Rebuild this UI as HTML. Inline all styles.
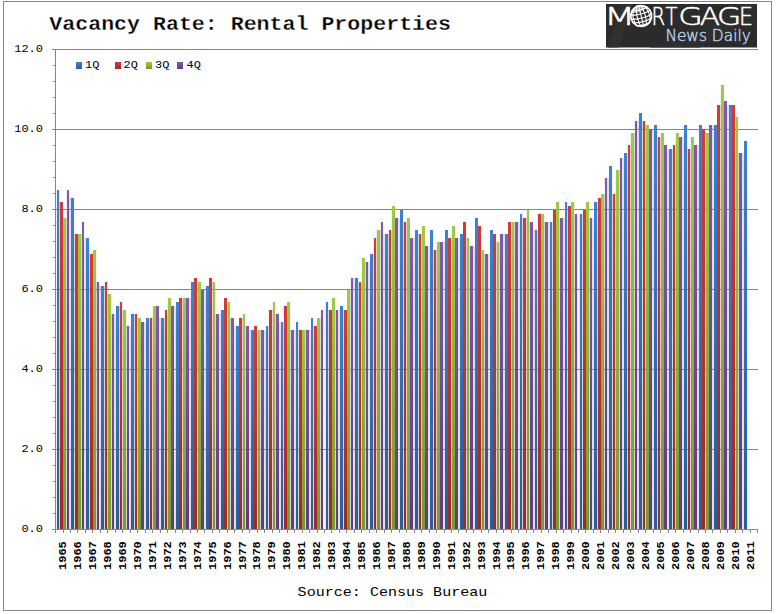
<!DOCTYPE html>
<html lang="en"><head><meta charset="utf-8"><title>Vacancy Rate: Rental Properties</title>
<style>
html,body{margin:0;padding:0;background:#fff;}
body{width:776px;height:614px;overflow:hidden;position:relative;font-family:"Liberation Mono",monospace;}
svg{position:absolute;left:0;top:0;display:block}
.mono{font-family:"Liberation Mono",monospace}
.ax{font-family:"Liberation Mono",monospace;font-size:12px;fill:#000}
.yr{font-family:"Liberation Mono",monospace;font-size:12px;font-weight:bold;fill:#000}
.ttl{font-family:"Liberation Mono",monospace;font-size:21.67px;font-weight:bold;fill:#000}
.src{font-family:"Liberation Mono",monospace;font-size:15px;fill:#000}
.lg{font-family:"DejaVu Sans","Liberation Sans",sans-serif;font-weight:200;fill:#fff}
.nd{font-family:"DejaVu Sans","Liberation Sans",sans-serif;font-weight:200;fill:#b4cde8}
</style></head><body>
<svg width="776" height="614" viewBox="0 0 776 614">
<defs>
<linearGradient id="gb" x1="0" y1="0" x2="0" y2="1"><stop offset="0" stop-color="#3A82D5"/><stop offset="1" stop-color="#265E9A"/></linearGradient>
<linearGradient id="gr" x1="0" y1="0" x2="0" y2="1"><stop offset="0" stop-color="#D33A38"/><stop offset="1" stop-color="#A02828"/></linearGradient>
<linearGradient id="gg" x1="0" y1="0" x2="0" y2="1"><stop offset="0" stop-color="#9FCB40"/><stop offset="1" stop-color="#769A30"/></linearGradient>
<linearGradient id="gp" x1="0" y1="0" x2="0" y2="1"><stop offset="0" stop-color="#8358B0"/><stop offset="1" stop-color="#5E3B82"/></linearGradient>
<linearGradient id="lgbg" x1="0" y1="1" x2="1" y2="0"><stop offset="0" stop-color="#2a2a2a"/><stop offset="0.18" stop-color="#2a2a2a"/><stop offset="0.22" stop-color="#343434"/><stop offset="0.42" stop-color="#303030"/><stop offset="0.46" stop-color="#2a2a2a"/><stop offset="1" stop-color="#2b2b2b"/></linearGradient>
</defs>
<rect x="0" y="0" width="776" height="614" fill="#fff"/>
<rect x="3.5" y="1.5" width="768" height="609" fill="none" stroke="#868686" stroke-width="1" shape-rendering="crispEdges"/>
<g shape-rendering="crispEdges">
<rect x="56" y="190" width="1" height="339" fill="#F3F2F0"/>
<rect x="59" y="202" width="1" height="327" fill="#D6D6D2"/>
<rect x="59" y="190" width="1" height="12" fill="#F3F2F0"/>
<rect x="66" y="218" width="1" height="311" fill="#D6D6D2"/>
<rect x="66" y="190" width="1" height="28" fill="#F3F2F0"/>
<rect x="69" y="198" width="2" height="331" fill="#E3E1DC"/>
<rect x="74" y="234" width="1" height="295" fill="#D6D6D2"/>
<rect x="74" y="198" width="1" height="36" fill="#F3F2F0"/>
<rect x="81" y="234" width="1" height="295" fill="#D6D6D2"/>
<rect x="81" y="222" width="1" height="12" fill="#F3F2F0"/>
<rect x="84" y="238" width="2" height="291" fill="#E3E1DC"/>
<rect x="89" y="254" width="1" height="275" fill="#D6D6D2"/>
<rect x="89" y="238" width="1" height="16" fill="#F3F2F0"/>
<rect x="96" y="282" width="1" height="247" fill="#D6D6D2"/>
<rect x="96" y="250" width="1" height="32" fill="#F3F2F0"/>
<rect x="99" y="286" width="2" height="243" fill="#E3E1DC"/>
<rect x="104" y="286" width="1" height="243" fill="#D6D6D2"/>
<rect x="104" y="282" width="1" height="4" fill="#F3F2F0"/>
<rect x="107" y="294" width="1" height="235" fill="#D6D6D2"/>
<rect x="107" y="282" width="1" height="12" fill="#F3F2F0"/>
<rect x="111" y="314" width="1" height="215" fill="#D6D6D2"/>
<rect x="111" y="294" width="1" height="20" fill="#F3F2F0"/>
<rect x="114" y="314" width="2" height="215" fill="#E3E1DC"/>
<rect x="119" y="306" width="1" height="223" fill="#D6D6D2"/>
<rect x="119" y="302" width="1" height="4" fill="#F3F2F0"/>
<rect x="122" y="310" width="1" height="219" fill="#D6D6D2"/>
<rect x="122" y="302" width="1" height="8" fill="#F3F2F0"/>
<rect x="126" y="326" width="1" height="203" fill="#D6D6D2"/>
<rect x="126" y="310" width="1" height="16" fill="#F3F2F0"/>
<rect x="129" y="326" width="2" height="203" fill="#E3E1DC"/>
<rect x="134" y="314" width="1" height="215" fill="#D6D6D2"/>
<rect x="137" y="318" width="1" height="211" fill="#D6D6D2"/>
<rect x="137" y="314" width="1" height="4" fill="#F3F2F0"/>
<rect x="144" y="322" width="2" height="207" fill="#E3E1DC"/>
<rect x="149" y="318" width="1" height="211" fill="#D6D6D2"/>
<rect x="152" y="318" width="1" height="211" fill="#D6D6D2"/>
<rect x="152" y="306" width="1" height="12" fill="#F3F2F0"/>
<rect x="159" y="318" width="2" height="211" fill="#E3E1DC"/>
<rect x="164" y="318" width="1" height="211" fill="#D6D6D2"/>
<rect x="164" y="310" width="1" height="8" fill="#F3F2F0"/>
<rect x="167" y="310" width="1" height="219" fill="#D6D6D2"/>
<rect x="167" y="298" width="1" height="12" fill="#F3F2F0"/>
<rect x="174" y="306" width="2" height="223" fill="#E3E1DC"/>
<rect x="182" y="298" width="1" height="231" fill="#D6D6D2"/>
<rect x="189" y="298" width="2" height="231" fill="#E3E1DC"/>
<rect x="197" y="282" width="1" height="247" fill="#D6D6D2"/>
<rect x="197" y="278" width="1" height="4" fill="#F3F2F0"/>
<rect x="204" y="290" width="2" height="239" fill="#E3E1DC"/>
<rect x="212" y="282" width="1" height="247" fill="#D6D6D2"/>
<rect x="212" y="278" width="1" height="4" fill="#F3F2F0"/>
<rect x="215" y="314" width="1" height="215" fill="#D6D6D2"/>
<rect x="215" y="282" width="1" height="32" fill="#F3F2F0"/>
<rect x="219" y="314" width="2" height="215" fill="#E3E1DC"/>
<rect x="227" y="302" width="1" height="227" fill="#D6D6D2"/>
<rect x="227" y="298" width="1" height="4" fill="#F3F2F0"/>
<rect x="230" y="318" width="1" height="211" fill="#D6D6D2"/>
<rect x="230" y="302" width="1" height="16" fill="#F3F2F0"/>
<rect x="234" y="326" width="2" height="203" fill="#E3E1DC"/>
<rect x="242" y="318" width="1" height="211" fill="#D6D6D2"/>
<rect x="242" y="314" width="1" height="4" fill="#F3F2F0"/>
<rect x="245" y="326" width="1" height="203" fill="#D6D6D2"/>
<rect x="245" y="314" width="1" height="12" fill="#F3F2F0"/>
<rect x="249" y="330" width="2" height="199" fill="#E3E1DC"/>
<rect x="257" y="330" width="1" height="199" fill="#D6D6D2"/>
<rect x="257" y="326" width="1" height="4" fill="#F3F2F0"/>
<rect x="260" y="330" width="1" height="199" fill="#D6D6D2"/>
<rect x="264" y="330" width="2" height="199" fill="#E3E1DC"/>
<rect x="268" y="326" width="1" height="203" fill="#D6D6D2"/>
<rect x="268" y="310" width="1" height="16" fill="#F3F2F0"/>
<rect x="272" y="310" width="1" height="219" fill="#D6D6D2"/>
<rect x="272" y="302" width="1" height="8" fill="#F3F2F0"/>
<rect x="275" y="314" width="1" height="215" fill="#D6D6D2"/>
<rect x="275" y="302" width="1" height="12" fill="#F3F2F0"/>
<rect x="279" y="322" width="2" height="207" fill="#E3E1DC"/>
<rect x="283" y="322" width="1" height="207" fill="#D6D6D2"/>
<rect x="283" y="306" width="1" height="16" fill="#F3F2F0"/>
<rect x="290" y="330" width="1" height="199" fill="#D6D6D2"/>
<rect x="290" y="302" width="1" height="28" fill="#F3F2F0"/>
<rect x="294" y="330" width="2" height="199" fill="#E3E1DC"/>
<rect x="298" y="330" width="1" height="199" fill="#D6D6D2"/>
<rect x="298" y="322" width="1" height="8" fill="#F3F2F0"/>
<rect x="305" y="330" width="1" height="199" fill="#D6D6D2"/>
<rect x="309" y="330" width="2" height="199" fill="#E3E1DC"/>
<rect x="313" y="326" width="1" height="203" fill="#D6D6D2"/>
<rect x="313" y="318" width="1" height="8" fill="#F3F2F0"/>
<rect x="320" y="318" width="1" height="211" fill="#D6D6D2"/>
<rect x="320" y="310" width="1" height="8" fill="#F3F2F0"/>
<rect x="323" y="310" width="3" height="219" fill="#F8F7F5"/>
<rect x="323" y="310" width="1" height="219" fill="#E8E6E2"/>
<rect x="325" y="310" width="1" height="219" fill="#E8E6E2"/>
<rect x="325" y="302" width="1" height="8" fill="#F3F2F0"/>
<rect x="328" y="310" width="1" height="219" fill="#D6D6D2"/>
<rect x="328" y="302" width="1" height="8" fill="#F3F2F0"/>
<rect x="335" y="310" width="1" height="219" fill="#D6D6D2"/>
<rect x="335" y="298" width="1" height="12" fill="#F3F2F0"/>
<rect x="338" y="310" width="2" height="219" fill="#E3E1DC"/>
<rect x="343" y="310" width="1" height="219" fill="#D6D6D2"/>
<rect x="343" y="306" width="1" height="4" fill="#F3F2F0"/>
<rect x="350" y="290" width="1" height="239" fill="#D6D6D2"/>
<rect x="350" y="278" width="1" height="12" fill="#F3F2F0"/>
<rect x="353" y="278" width="2" height="251" fill="#E3E1DC"/>
<rect x="358" y="282" width="1" height="247" fill="#D6D6D2"/>
<rect x="358" y="278" width="1" height="4" fill="#F3F2F0"/>
<rect x="361" y="282" width="1" height="247" fill="#D6D6D2"/>
<rect x="361" y="258" width="1" height="24" fill="#F3F2F0"/>
<rect x="365" y="262" width="1" height="267" fill="#D6D6D2"/>
<rect x="365" y="258" width="1" height="4" fill="#F3F2F0"/>
<rect x="368" y="262" width="2" height="267" fill="#E3E1DC"/>
<rect x="373" y="254" width="1" height="275" fill="#D6D6D2"/>
<rect x="373" y="238" width="1" height="16" fill="#F3F2F0"/>
<rect x="376" y="238" width="1" height="291" fill="#D6D6D2"/>
<rect x="376" y="230" width="1" height="8" fill="#F3F2F0"/>
<rect x="380" y="230" width="1" height="299" fill="#D6D6D2"/>
<rect x="380" y="222" width="1" height="8" fill="#F3F2F0"/>
<rect x="383" y="234" width="2" height="295" fill="#E3E1DC"/>
<rect x="388" y="234" width="1" height="295" fill="#D6D6D2"/>
<rect x="388" y="230" width="1" height="4" fill="#F3F2F0"/>
<rect x="391" y="230" width="1" height="299" fill="#D6D6D2"/>
<rect x="391" y="206" width="1" height="24" fill="#F3F2F0"/>
<rect x="398" y="218" width="2" height="311" fill="#E3E1DC"/>
<rect x="403" y="222" width="1" height="307" fill="#D6D6D2"/>
<rect x="403" y="210" width="1" height="12" fill="#F3F2F0"/>
<rect x="406" y="222" width="1" height="307" fill="#D6D6D2"/>
<rect x="406" y="218" width="1" height="4" fill="#F3F2F0"/>
<rect x="413" y="238" width="2" height="291" fill="#E3E1DC"/>
<rect x="418" y="234" width="1" height="295" fill="#D6D6D2"/>
<rect x="418" y="230" width="1" height="4" fill="#F3F2F0"/>
<rect x="421" y="234" width="1" height="295" fill="#D6D6D2"/>
<rect x="421" y="226" width="1" height="8" fill="#F3F2F0"/>
<rect x="428" y="246" width="2" height="283" fill="#E3E1DC"/>
<rect x="433" y="250" width="1" height="279" fill="#D6D6D2"/>
<rect x="433" y="230" width="1" height="20" fill="#F3F2F0"/>
<rect x="436" y="250" width="1" height="279" fill="#D6D6D2"/>
<rect x="436" y="242" width="1" height="8" fill="#F3F2F0"/>
<rect x="443" y="242" width="2" height="287" fill="#E3E1DC"/>
<rect x="451" y="238" width="1" height="291" fill="#D6D6D2"/>
<rect x="451" y="226" width="1" height="12" fill="#F3F2F0"/>
<rect x="458" y="238" width="2" height="291" fill="#E3E1DC"/>
<rect x="466" y="238" width="1" height="291" fill="#D6D6D2"/>
<rect x="466" y="222" width="1" height="16" fill="#F3F2F0"/>
<rect x="469" y="246" width="1" height="283" fill="#D6D6D2"/>
<rect x="469" y="238" width="1" height="8" fill="#F3F2F0"/>
<rect x="473" y="246" width="2" height="283" fill="#E3E1DC"/>
<rect x="481" y="250" width="1" height="279" fill="#D6D6D2"/>
<rect x="481" y="226" width="1" height="24" fill="#F3F2F0"/>
<rect x="484" y="254" width="1" height="275" fill="#D6D6D2"/>
<rect x="484" y="250" width="1" height="4" fill="#F3F2F0"/>
<rect x="488" y="254" width="2" height="275" fill="#E3E1DC"/>
<rect x="496" y="242" width="1" height="287" fill="#D6D6D2"/>
<rect x="496" y="234" width="1" height="8" fill="#F3F2F0"/>
<rect x="499" y="242" width="1" height="287" fill="#D6D6D2"/>
<rect x="499" y="234" width="1" height="8" fill="#F3F2F0"/>
<rect x="503" y="234" width="2" height="295" fill="#E3E1DC"/>
<rect x="511" y="222" width="1" height="307" fill="#D6D6D2"/>
<rect x="514" y="222" width="1" height="307" fill="#D6D6D2"/>
<rect x="518" y="222" width="2" height="307" fill="#E3E1DC"/>
<rect x="522" y="218" width="1" height="311" fill="#D6D6D2"/>
<rect x="522" y="214" width="1" height="4" fill="#F3F2F0"/>
<rect x="526" y="218" width="1" height="311" fill="#D6D6D2"/>
<rect x="526" y="210" width="1" height="8" fill="#F3F2F0"/>
<rect x="529" y="222" width="1" height="307" fill="#D6D6D2"/>
<rect x="529" y="210" width="1" height="12" fill="#F3F2F0"/>
<rect x="533" y="230" width="2" height="299" fill="#E3E1DC"/>
<rect x="537" y="230" width="1" height="299" fill="#D6D6D2"/>
<rect x="537" y="214" width="1" height="16" fill="#F3F2F0"/>
<rect x="544" y="222" width="1" height="307" fill="#D6D6D2"/>
<rect x="544" y="214" width="1" height="8" fill="#F3F2F0"/>
<rect x="548" y="222" width="2" height="307" fill="#E3E1DC"/>
<rect x="552" y="222" width="1" height="307" fill="#D6D6D2"/>
<rect x="552" y="210" width="1" height="12" fill="#F3F2F0"/>
<rect x="559" y="218" width="1" height="311" fill="#D6D6D2"/>
<rect x="559" y="202" width="1" height="16" fill="#F3F2F0"/>
<rect x="563" y="218" width="2" height="311" fill="#E3E1DC"/>
<rect x="567" y="206" width="1" height="323" fill="#D6D6D2"/>
<rect x="567" y="202" width="1" height="4" fill="#F3F2F0"/>
<rect x="574" y="214" width="1" height="315" fill="#D6D6D2"/>
<rect x="574" y="202" width="1" height="12" fill="#F3F2F0"/>
<rect x="577" y="214" width="3" height="315" fill="#F8F7F5"/>
<rect x="577" y="214" width="1" height="315" fill="#E8E6E2"/>
<rect x="579" y="214" width="1" height="315" fill="#E8E6E2"/>
<rect x="582" y="214" width="1" height="315" fill="#D6D6D2"/>
<rect x="582" y="210" width="1" height="4" fill="#F3F2F0"/>
<rect x="589" y="218" width="1" height="311" fill="#D6D6D2"/>
<rect x="589" y="202" width="1" height="16" fill="#F3F2F0"/>
<rect x="592" y="218" width="2" height="311" fill="#E3E1DC"/>
<rect x="597" y="202" width="1" height="327" fill="#D6D6D2"/>
<rect x="597" y="198" width="1" height="4" fill="#F3F2F0"/>
<rect x="604" y="194" width="1" height="335" fill="#D6D6D2"/>
<rect x="604" y="178" width="1" height="16" fill="#F3F2F0"/>
<rect x="607" y="178" width="2" height="351" fill="#E3E1DC"/>
<rect x="612" y="194" width="1" height="335" fill="#D6D6D2"/>
<rect x="612" y="166" width="1" height="28" fill="#F3F2F0"/>
<rect x="615" y="194" width="1" height="335" fill="#D6D6D2"/>
<rect x="615" y="170" width="1" height="24" fill="#F3F2F0"/>
<rect x="619" y="170" width="1" height="359" fill="#D6D6D2"/>
<rect x="619" y="158" width="1" height="12" fill="#F3F2F0"/>
<rect x="622" y="158" width="2" height="371" fill="#E3E1DC"/>
<rect x="627" y="153" width="1" height="376" fill="#D6D6D2"/>
<rect x="627" y="145" width="1" height="8" fill="#F3F2F0"/>
<rect x="630" y="145" width="1" height="384" fill="#D6D6D2"/>
<rect x="630" y="133" width="1" height="12" fill="#F3F2F0"/>
<rect x="634" y="133" width="1" height="396" fill="#D6D6D2"/>
<rect x="634" y="121" width="1" height="12" fill="#F3F2F0"/>
<rect x="637" y="121" width="2" height="408" fill="#E3E1DC"/>
<rect x="642" y="121" width="1" height="408" fill="#D6D6D2"/>
<rect x="642" y="113" width="1" height="8" fill="#F3F2F0"/>
<rect x="645" y="125" width="1" height="404" fill="#D6D6D2"/>
<rect x="645" y="121" width="1" height="4" fill="#F3F2F0"/>
<rect x="652" y="129" width="2" height="400" fill="#E3E1DC"/>
<rect x="657" y="137" width="1" height="392" fill="#D6D6D2"/>
<rect x="657" y="125" width="1" height="12" fill="#F3F2F0"/>
<rect x="660" y="137" width="1" height="392" fill="#D6D6D2"/>
<rect x="660" y="133" width="1" height="4" fill="#F3F2F0"/>
<rect x="667" y="149" width="2" height="380" fill="#E3E1DC"/>
<rect x="672" y="149" width="1" height="380" fill="#D6D6D2"/>
<rect x="672" y="145" width="1" height="4" fill="#F3F2F0"/>
<rect x="675" y="145" width="1" height="384" fill="#D6D6D2"/>
<rect x="675" y="133" width="1" height="12" fill="#F3F2F0"/>
<rect x="682" y="137" width="2" height="392" fill="#E3E1DC"/>
<rect x="687" y="149" width="1" height="380" fill="#D6D6D2"/>
<rect x="687" y="125" width="1" height="24" fill="#F3F2F0"/>
<rect x="690" y="149" width="1" height="380" fill="#D6D6D2"/>
<rect x="690" y="137" width="1" height="12" fill="#F3F2F0"/>
<rect x="697" y="145" width="2" height="384" fill="#E3E1DC"/>
<rect x="705" y="133" width="1" height="396" fill="#D6D6D2"/>
<rect x="705" y="129" width="1" height="4" fill="#F3F2F0"/>
<rect x="712" y="125" width="2" height="404" fill="#E3E1DC"/>
<rect x="720" y="105" width="1" height="424" fill="#D6D6D2"/>
<rect x="720" y="85" width="1" height="20" fill="#F3F2F0"/>
<rect x="727" y="105" width="2" height="424" fill="#E3E1DC"/>
<rect x="735" y="117" width="1" height="412" fill="#D6D6D2"/>
<rect x="735" y="105" width="1" height="12" fill="#F3F2F0"/>
<rect x="738" y="153" width="1" height="376" fill="#D6D6D2"/>
<rect x="738" y="117" width="1" height="36" fill="#F3F2F0"/>
<rect x="742" y="153" width="2" height="376" fill="#E3E1DC"/>
<rect x="747" y="141" width="1" height="388" fill="#F3F2F0"/>
</g>
<g shape-rendering="crispEdges" fill="#868686">
<rect x="52" y="49" width="706" height="1"/>
<rect x="52" y="129" width="706" height="1"/>
<rect x="52" y="209" width="706" height="1"/>
<rect x="52" y="289" width="706" height="1"/>
<rect x="52" y="369" width="706" height="1"/>
<rect x="52" y="449" width="706" height="1"/>
<rect x="52" y="529" width="706" height="1"/>
<rect x="55" y="49" width="1" height="481"/>
<rect x="53" y="65" width="2" height="1"/>
<rect x="53" y="81" width="2" height="1"/>
<rect x="53" y="97" width="2" height="1"/>
<rect x="53" y="113" width="2" height="1"/>
<rect x="53" y="145" width="2" height="1"/>
<rect x="53" y="161" width="2" height="1"/>
<rect x="53" y="177" width="2" height="1"/>
<rect x="53" y="193" width="2" height="1"/>
<rect x="53" y="225" width="2" height="1"/>
<rect x="53" y="241" width="2" height="1"/>
<rect x="53" y="257" width="2" height="1"/>
<rect x="53" y="273" width="2" height="1"/>
<rect x="53" y="305" width="2" height="1"/>
<rect x="53" y="321" width="2" height="1"/>
<rect x="53" y="337" width="2" height="1"/>
<rect x="53" y="353" width="2" height="1"/>
<rect x="53" y="385" width="2" height="1"/>
<rect x="53" y="401" width="2" height="1"/>
<rect x="53" y="417" width="2" height="1"/>
<rect x="53" y="433" width="2" height="1"/>
<rect x="53" y="465" width="2" height="1"/>
<rect x="53" y="481" width="2" height="1"/>
<rect x="53" y="497" width="2" height="1"/>
<rect x="53" y="513" width="2" height="1"/>
<rect x="55" y="530" width="1" height="3"/>
<rect x="63" y="530" width="1" height="3"/>
<rect x="70" y="530" width="1" height="3"/>
<rect x="77" y="530" width="1" height="3"/>
<rect x="85" y="530" width="1" height="3"/>
<rect x="92" y="530" width="1" height="3"/>
<rect x="100" y="530" width="1" height="3"/>
<rect x="107" y="530" width="1" height="3"/>
<rect x="115" y="530" width="1" height="3"/>
<rect x="122" y="530" width="1" height="3"/>
<rect x="130" y="530" width="1" height="3"/>
<rect x="137" y="530" width="1" height="3"/>
<rect x="145" y="530" width="1" height="3"/>
<rect x="152" y="530" width="1" height="3"/>
<rect x="160" y="530" width="1" height="3"/>
<rect x="167" y="530" width="1" height="3"/>
<rect x="175" y="530" width="1" height="3"/>
<rect x="182" y="530" width="1" height="3"/>
<rect x="190" y="530" width="1" height="3"/>
<rect x="197" y="530" width="1" height="3"/>
<rect x="204" y="530" width="1" height="3"/>
<rect x="212" y="530" width="1" height="3"/>
<rect x="219" y="530" width="1" height="3"/>
<rect x="227" y="530" width="1" height="3"/>
<rect x="234" y="530" width="1" height="3"/>
<rect x="242" y="530" width="1" height="3"/>
<rect x="249" y="530" width="1" height="3"/>
<rect x="257" y="530" width="1" height="3"/>
<rect x="264" y="530" width="1" height="3"/>
<rect x="272" y="530" width="1" height="3"/>
<rect x="279" y="530" width="1" height="3"/>
<rect x="287" y="530" width="1" height="3"/>
<rect x="294" y="530" width="1" height="3"/>
<rect x="302" y="530" width="1" height="3"/>
<rect x="309" y="530" width="1" height="3"/>
<rect x="317" y="530" width="1" height="3"/>
<rect x="324" y="530" width="1" height="3"/>
<rect x="331" y="530" width="1" height="3"/>
<rect x="339" y="530" width="1" height="3"/>
<rect x="346" y="530" width="1" height="3"/>
<rect x="354" y="530" width="1" height="3"/>
<rect x="361" y="530" width="1" height="3"/>
<rect x="369" y="530" width="1" height="3"/>
<rect x="376" y="530" width="1" height="3"/>
<rect x="384" y="530" width="1" height="3"/>
<rect x="391" y="530" width="1" height="3"/>
<rect x="399" y="530" width="1" height="3"/>
<rect x="406" y="530" width="1" height="3"/>
<rect x="414" y="530" width="1" height="3"/>
<rect x="421" y="530" width="1" height="3"/>
<rect x="429" y="530" width="1" height="3"/>
<rect x="436" y="530" width="1" height="3"/>
<rect x="444" y="530" width="1" height="3"/>
<rect x="451" y="530" width="1" height="3"/>
<rect x="458" y="530" width="1" height="3"/>
<rect x="466" y="530" width="1" height="3"/>
<rect x="473" y="530" width="1" height="3"/>
<rect x="481" y="530" width="1" height="3"/>
<rect x="488" y="530" width="1" height="3"/>
<rect x="496" y="530" width="1" height="3"/>
<rect x="503" y="530" width="1" height="3"/>
<rect x="511" y="530" width="1" height="3"/>
<rect x="518" y="530" width="1" height="3"/>
<rect x="526" y="530" width="1" height="3"/>
<rect x="533" y="530" width="1" height="3"/>
<rect x="541" y="530" width="1" height="3"/>
<rect x="548" y="530" width="1" height="3"/>
<rect x="556" y="530" width="1" height="3"/>
<rect x="563" y="530" width="1" height="3"/>
<rect x="571" y="530" width="1" height="3"/>
<rect x="578" y="530" width="1" height="3"/>
<rect x="585" y="530" width="1" height="3"/>
<rect x="593" y="530" width="1" height="3"/>
<rect x="600" y="530" width="1" height="3"/>
<rect x="608" y="530" width="1" height="3"/>
<rect x="615" y="530" width="1" height="3"/>
<rect x="623" y="530" width="1" height="3"/>
<rect x="630" y="530" width="1" height="3"/>
<rect x="638" y="530" width="1" height="3"/>
<rect x="645" y="530" width="1" height="3"/>
<rect x="653" y="530" width="1" height="3"/>
<rect x="660" y="530" width="1" height="3"/>
<rect x="668" y="530" width="1" height="3"/>
<rect x="675" y="530" width="1" height="3"/>
<rect x="683" y="530" width="1" height="3"/>
<rect x="690" y="530" width="1" height="3"/>
<rect x="698" y="530" width="1" height="3"/>
<rect x="705" y="530" width="1" height="3"/>
<rect x="712" y="530" width="1" height="3"/>
<rect x="720" y="530" width="1" height="3"/>
<rect x="727" y="530" width="1" height="3"/>
<rect x="735" y="530" width="1" height="3"/>
<rect x="742" y="530" width="1" height="3"/>
<rect x="750" y="530" width="1" height="3"/>
<rect x="757" y="530" width="1" height="3"/>
</g>
<g shape-rendering="crispEdges">
<rect x="57" y="190" width="2" height="339" fill="url(#gb)"/>
<rect x="60" y="202" width="3" height="327" fill="url(#gr)"/>
<rect x="63" y="218" width="3" height="311" fill="url(#gg)"/>
<rect x="67" y="190" width="2" height="339" fill="url(#gp)"/>
<rect x="71" y="198" width="3" height="331" fill="url(#gb)"/>
<rect x="75" y="234" width="3" height="295" fill="url(#gr)"/>
<rect x="78" y="234" width="3" height="295" fill="url(#gg)"/>
<rect x="82" y="222" width="2" height="307" fill="url(#gp)"/>
<rect x="86" y="238" width="3" height="291" fill="url(#gb)"/>
<rect x="90" y="254" width="3" height="275" fill="url(#gr)"/>
<rect x="93" y="250" width="3" height="279" fill="url(#gg)"/>
<rect x="97" y="282" width="2" height="247" fill="url(#gp)"/>
<rect x="101" y="286" width="3" height="243" fill="url(#gb)"/>
<rect x="105" y="282" width="2" height="247" fill="url(#gr)"/>
<rect x="108" y="294" width="3" height="235" fill="url(#gg)"/>
<rect x="112" y="314" width="2" height="215" fill="url(#gp)"/>
<rect x="116" y="306" width="3" height="223" fill="url(#gb)"/>
<rect x="120" y="302" width="2" height="227" fill="url(#gr)"/>
<rect x="123" y="310" width="3" height="219" fill="url(#gg)"/>
<rect x="127" y="326" width="2" height="203" fill="url(#gp)"/>
<rect x="131" y="314" width="3" height="215" fill="url(#gb)"/>
<rect x="135" y="314" width="2" height="215" fill="url(#gr)"/>
<rect x="138" y="318" width="3" height="211" fill="url(#gg)"/>
<rect x="141" y="322" width="3" height="207" fill="url(#gp)"/>
<rect x="146" y="318" width="3" height="211" fill="url(#gb)"/>
<rect x="150" y="318" width="2" height="211" fill="url(#gr)"/>
<rect x="153" y="306" width="3" height="223" fill="url(#gg)"/>
<rect x="156" y="306" width="3" height="223" fill="url(#gp)"/>
<rect x="161" y="318" width="3" height="211" fill="url(#gb)"/>
<rect x="165" y="310" width="2" height="219" fill="url(#gr)"/>
<rect x="168" y="298" width="3" height="231" fill="url(#gg)"/>
<rect x="171" y="306" width="3" height="223" fill="url(#gp)"/>
<rect x="176" y="302" width="3" height="227" fill="url(#gb)"/>
<rect x="179" y="298" width="3" height="231" fill="url(#gr)"/>
<rect x="183" y="298" width="3" height="231" fill="url(#gg)"/>
<rect x="186" y="298" width="3" height="231" fill="url(#gp)"/>
<rect x="191" y="282" width="3" height="247" fill="url(#gb)"/>
<rect x="194" y="278" width="3" height="251" fill="url(#gr)"/>
<rect x="198" y="282" width="3" height="247" fill="url(#gg)"/>
<rect x="201" y="290" width="3" height="239" fill="url(#gp)"/>
<rect x="206" y="286" width="3" height="243" fill="url(#gb)"/>
<rect x="209" y="278" width="3" height="251" fill="url(#gr)"/>
<rect x="213" y="282" width="2" height="247" fill="url(#gg)"/>
<rect x="216" y="314" width="3" height="215" fill="url(#gp)"/>
<rect x="221" y="310" width="3" height="219" fill="url(#gb)"/>
<rect x="224" y="298" width="3" height="231" fill="url(#gr)"/>
<rect x="228" y="302" width="2" height="227" fill="url(#gg)"/>
<rect x="231" y="318" width="3" height="211" fill="url(#gp)"/>
<rect x="236" y="326" width="3" height="203" fill="url(#gb)"/>
<rect x="239" y="318" width="3" height="211" fill="url(#gr)"/>
<rect x="243" y="314" width="2" height="215" fill="url(#gg)"/>
<rect x="246" y="326" width="3" height="203" fill="url(#gp)"/>
<rect x="251" y="330" width="3" height="199" fill="url(#gb)"/>
<rect x="254" y="326" width="3" height="203" fill="url(#gr)"/>
<rect x="258" y="330" width="2" height="199" fill="url(#gg)"/>
<rect x="261" y="330" width="3" height="199" fill="url(#gp)"/>
<rect x="266" y="326" width="2" height="203" fill="url(#gb)"/>
<rect x="269" y="310" width="3" height="219" fill="url(#gr)"/>
<rect x="273" y="302" width="2" height="227" fill="url(#gg)"/>
<rect x="276" y="314" width="3" height="215" fill="url(#gp)"/>
<rect x="281" y="322" width="2" height="207" fill="url(#gb)"/>
<rect x="284" y="306" width="3" height="223" fill="url(#gr)"/>
<rect x="287" y="302" width="3" height="227" fill="url(#gg)"/>
<rect x="291" y="330" width="3" height="199" fill="url(#gp)"/>
<rect x="296" y="322" width="2" height="207" fill="url(#gb)"/>
<rect x="299" y="330" width="3" height="199" fill="url(#gr)"/>
<rect x="302" y="330" width="3" height="199" fill="url(#gg)"/>
<rect x="306" y="330" width="3" height="199" fill="url(#gp)"/>
<rect x="311" y="318" width="2" height="211" fill="url(#gb)"/>
<rect x="314" y="326" width="3" height="203" fill="url(#gr)"/>
<rect x="317" y="318" width="3" height="211" fill="url(#gg)"/>
<rect x="321" y="310" width="2" height="219" fill="url(#gp)"/>
<rect x="326" y="302" width="2" height="227" fill="url(#gb)"/>
<rect x="329" y="310" width="3" height="219" fill="url(#gr)"/>
<rect x="332" y="298" width="3" height="231" fill="url(#gg)"/>
<rect x="336" y="310" width="2" height="219" fill="url(#gp)"/>
<rect x="340" y="306" width="3" height="223" fill="url(#gb)"/>
<rect x="344" y="310" width="3" height="219" fill="url(#gr)"/>
<rect x="347" y="290" width="3" height="239" fill="url(#gg)"/>
<rect x="351" y="278" width="2" height="251" fill="url(#gp)"/>
<rect x="355" y="278" width="3" height="251" fill="url(#gb)"/>
<rect x="359" y="282" width="2" height="247" fill="url(#gr)"/>
<rect x="362" y="258" width="3" height="271" fill="url(#gg)"/>
<rect x="366" y="262" width="2" height="267" fill="url(#gp)"/>
<rect x="370" y="254" width="3" height="275" fill="url(#gb)"/>
<rect x="374" y="238" width="2" height="291" fill="url(#gr)"/>
<rect x="377" y="230" width="3" height="299" fill="url(#gg)"/>
<rect x="381" y="222" width="2" height="307" fill="url(#gp)"/>
<rect x="385" y="234" width="3" height="295" fill="url(#gb)"/>
<rect x="389" y="230" width="2" height="299" fill="url(#gr)"/>
<rect x="392" y="206" width="3" height="323" fill="url(#gg)"/>
<rect x="395" y="218" width="3" height="311" fill="url(#gp)"/>
<rect x="400" y="210" width="3" height="319" fill="url(#gb)"/>
<rect x="404" y="222" width="2" height="307" fill="url(#gr)"/>
<rect x="407" y="218" width="3" height="311" fill="url(#gg)"/>
<rect x="410" y="238" width="3" height="291" fill="url(#gp)"/>
<rect x="415" y="230" width="3" height="299" fill="url(#gb)"/>
<rect x="419" y="234" width="2" height="295" fill="url(#gr)"/>
<rect x="422" y="226" width="3" height="303" fill="url(#gg)"/>
<rect x="425" y="246" width="3" height="283" fill="url(#gp)"/>
<rect x="430" y="230" width="3" height="299" fill="url(#gb)"/>
<rect x="434" y="250" width="2" height="279" fill="url(#gr)"/>
<rect x="437" y="242" width="3" height="287" fill="url(#gg)"/>
<rect x="440" y="242" width="3" height="287" fill="url(#gp)"/>
<rect x="445" y="230" width="3" height="299" fill="url(#gb)"/>
<rect x="448" y="238" width="3" height="291" fill="url(#gr)"/>
<rect x="452" y="226" width="3" height="303" fill="url(#gg)"/>
<rect x="455" y="238" width="3" height="291" fill="url(#gp)"/>
<rect x="460" y="234" width="3" height="295" fill="url(#gb)"/>
<rect x="463" y="222" width="3" height="307" fill="url(#gr)"/>
<rect x="467" y="238" width="2" height="291" fill="url(#gg)"/>
<rect x="470" y="246" width="3" height="283" fill="url(#gp)"/>
<rect x="475" y="218" width="3" height="311" fill="url(#gb)"/>
<rect x="478" y="226" width="3" height="303" fill="url(#gr)"/>
<rect x="482" y="250" width="2" height="279" fill="url(#gg)"/>
<rect x="485" y="254" width="3" height="275" fill="url(#gp)"/>
<rect x="490" y="230" width="3" height="299" fill="url(#gb)"/>
<rect x="493" y="234" width="3" height="295" fill="url(#gr)"/>
<rect x="497" y="242" width="2" height="287" fill="url(#gg)"/>
<rect x="500" y="234" width="3" height="295" fill="url(#gp)"/>
<rect x="505" y="234" width="3" height="295" fill="url(#gb)"/>
<rect x="508" y="222" width="3" height="307" fill="url(#gr)"/>
<rect x="512" y="222" width="2" height="307" fill="url(#gg)"/>
<rect x="515" y="222" width="3" height="307" fill="url(#gp)"/>
<rect x="520" y="214" width="2" height="315" fill="url(#gb)"/>
<rect x="523" y="218" width="3" height="311" fill="url(#gr)"/>
<rect x="527" y="210" width="2" height="319" fill="url(#gg)"/>
<rect x="530" y="222" width="3" height="307" fill="url(#gp)"/>
<rect x="535" y="230" width="2" height="299" fill="url(#gb)"/>
<rect x="538" y="214" width="3" height="315" fill="url(#gr)"/>
<rect x="541" y="214" width="3" height="315" fill="url(#gg)"/>
<rect x="545" y="222" width="3" height="307" fill="url(#gp)"/>
<rect x="550" y="222" width="2" height="307" fill="url(#gb)"/>
<rect x="553" y="210" width="3" height="319" fill="url(#gr)"/>
<rect x="556" y="202" width="3" height="327" fill="url(#gg)"/>
<rect x="560" y="218" width="3" height="311" fill="url(#gp)"/>
<rect x="565" y="202" width="2" height="327" fill="url(#gb)"/>
<rect x="568" y="206" width="3" height="323" fill="url(#gr)"/>
<rect x="571" y="202" width="3" height="327" fill="url(#gg)"/>
<rect x="575" y="214" width="2" height="315" fill="url(#gp)"/>
<rect x="580" y="214" width="2" height="315" fill="url(#gb)"/>
<rect x="583" y="210" width="3" height="319" fill="url(#gr)"/>
<rect x="586" y="202" width="3" height="327" fill="url(#gg)"/>
<rect x="590" y="218" width="2" height="311" fill="url(#gp)"/>
<rect x="594" y="202" width="3" height="327" fill="url(#gb)"/>
<rect x="598" y="198" width="3" height="331" fill="url(#gr)"/>
<rect x="601" y="194" width="3" height="335" fill="url(#gg)"/>
<rect x="605" y="178" width="2" height="351" fill="url(#gp)"/>
<rect x="609" y="166" width="3" height="363" fill="url(#gb)"/>
<rect x="613" y="194" width="2" height="335" fill="url(#gr)"/>
<rect x="616" y="170" width="3" height="359" fill="url(#gg)"/>
<rect x="620" y="158" width="2" height="371" fill="url(#gp)"/>
<rect x="624" y="153" width="3" height="376" fill="url(#gb)"/>
<rect x="628" y="145" width="2" height="384" fill="url(#gr)"/>
<rect x="631" y="133" width="3" height="396" fill="url(#gg)"/>
<rect x="635" y="121" width="2" height="408" fill="url(#gp)"/>
<rect x="639" y="113" width="3" height="416" fill="url(#gb)"/>
<rect x="643" y="121" width="2" height="408" fill="url(#gr)"/>
<rect x="646" y="125" width="3" height="404" fill="url(#gg)"/>
<rect x="649" y="129" width="3" height="400" fill="url(#gp)"/>
<rect x="654" y="125" width="3" height="404" fill="url(#gb)"/>
<rect x="658" y="137" width="2" height="392" fill="url(#gr)"/>
<rect x="661" y="133" width="3" height="396" fill="url(#gg)"/>
<rect x="664" y="145" width="3" height="384" fill="url(#gp)"/>
<rect x="669" y="149" width="3" height="380" fill="url(#gb)"/>
<rect x="673" y="145" width="2" height="384" fill="url(#gr)"/>
<rect x="676" y="133" width="3" height="396" fill="url(#gg)"/>
<rect x="679" y="137" width="3" height="392" fill="url(#gp)"/>
<rect x="684" y="125" width="3" height="404" fill="url(#gb)"/>
<rect x="688" y="149" width="2" height="380" fill="url(#gr)"/>
<rect x="691" y="137" width="3" height="392" fill="url(#gg)"/>
<rect x="694" y="145" width="3" height="384" fill="url(#gp)"/>
<rect x="699" y="125" width="3" height="404" fill="url(#gb)"/>
<rect x="702" y="129" width="3" height="400" fill="url(#gr)"/>
<rect x="706" y="133" width="3" height="396" fill="url(#gg)"/>
<rect x="709" y="125" width="3" height="404" fill="url(#gp)"/>
<rect x="714" y="125" width="3" height="404" fill="url(#gb)"/>
<rect x="717" y="105" width="3" height="424" fill="url(#gr)"/>
<rect x="721" y="85" width="3" height="444" fill="url(#gg)"/>
<rect x="724" y="101" width="3" height="428" fill="url(#gp)"/>
<rect x="729" y="105" width="3" height="424" fill="url(#gb)"/>
<rect x="732" y="105" width="3" height="424" fill="url(#gr)"/>
<rect x="736" y="117" width="2" height="412" fill="url(#gg)"/>
<rect x="739" y="153" width="3" height="376" fill="url(#gp)"/>
<rect x="744" y="141" width="3" height="388" fill="url(#gb)"/>
</g>
<text class="ax" transform="translate(43,51.7) scale(1,0.86)" text-anchor="end">12.0</text>
<text class="ax" transform="translate(43,131.7) scale(1,0.86)" text-anchor="end">10.0</text>
<text class="ax" transform="translate(43,211.7) scale(1,0.86)" text-anchor="end">8.0</text>
<text class="ax" transform="translate(43,291.7) scale(1,0.86)" text-anchor="end">6.0</text>
<text class="ax" transform="translate(43,371.7) scale(1,0.86)" text-anchor="end">4.0</text>
<text class="ax" transform="translate(43,451.7) scale(1,0.86)" text-anchor="end">2.0</text>
<text class="ax" transform="translate(43,531.7) scale(1,0.86)" text-anchor="end">0.0</text>
<text class="yr" transform="translate(66.20,570) rotate(-90) scale(1,0.98)">1965</text>
<text class="yr" transform="translate(81.14,570) rotate(-90) scale(1,0.98)">1966</text>
<text class="yr" transform="translate(96.09,570) rotate(-90) scale(1,0.98)">1967</text>
<text class="yr" transform="translate(111.03,570) rotate(-90) scale(1,0.98)">1968</text>
<text class="yr" transform="translate(125.97,570) rotate(-90) scale(1,0.98)">1969</text>
<text class="yr" transform="translate(140.91,570) rotate(-90) scale(1,0.98)">1970</text>
<text class="yr" transform="translate(155.85,570) rotate(-90) scale(1,0.98)">1971</text>
<text class="yr" transform="translate(170.79,570) rotate(-90) scale(1,0.98)">1972</text>
<text class="yr" transform="translate(185.74,570) rotate(-90) scale(1,0.98)">1973</text>
<text class="yr" transform="translate(200.68,570) rotate(-90) scale(1,0.98)">1974</text>
<text class="yr" transform="translate(215.62,570) rotate(-90) scale(1,0.98)">1975</text>
<text class="yr" transform="translate(230.56,570) rotate(-90) scale(1,0.98)">1976</text>
<text class="yr" transform="translate(245.50,570) rotate(-90) scale(1,0.98)">1977</text>
<text class="yr" transform="translate(260.45,570) rotate(-90) scale(1,0.98)">1978</text>
<text class="yr" transform="translate(275.39,570) rotate(-90) scale(1,0.98)">1979</text>
<text class="yr" transform="translate(290.33,570) rotate(-90) scale(1,0.98)">1980</text>
<text class="yr" transform="translate(305.27,570) rotate(-90) scale(1,0.98)">1981</text>
<text class="yr" transform="translate(320.21,570) rotate(-90) scale(1,0.98)">1982</text>
<text class="yr" transform="translate(335.16,570) rotate(-90) scale(1,0.98)">1983</text>
<text class="yr" transform="translate(350.10,570) rotate(-90) scale(1,0.98)">1984</text>
<text class="yr" transform="translate(365.04,570) rotate(-90) scale(1,0.98)">1985</text>
<text class="yr" transform="translate(379.98,570) rotate(-90) scale(1,0.98)">1986</text>
<text class="yr" transform="translate(394.93,570) rotate(-90) scale(1,0.98)">1987</text>
<text class="yr" transform="translate(409.87,570) rotate(-90) scale(1,0.98)">1988</text>
<text class="yr" transform="translate(424.81,570) rotate(-90) scale(1,0.98)">1989</text>
<text class="yr" transform="translate(439.75,570) rotate(-90) scale(1,0.98)">1990</text>
<text class="yr" transform="translate(454.69,570) rotate(-90) scale(1,0.98)">1991</text>
<text class="yr" transform="translate(469.64,570) rotate(-90) scale(1,0.98)">1992</text>
<text class="yr" transform="translate(484.58,570) rotate(-90) scale(1,0.98)">1993</text>
<text class="yr" transform="translate(499.52,570) rotate(-90) scale(1,0.98)">1994</text>
<text class="yr" transform="translate(514.46,570) rotate(-90) scale(1,0.98)">1995</text>
<text class="yr" transform="translate(529.40,570) rotate(-90) scale(1,0.98)">1996</text>
<text class="yr" transform="translate(544.35,570) rotate(-90) scale(1,0.98)">1997</text>
<text class="yr" transform="translate(559.29,570) rotate(-90) scale(1,0.98)">1998</text>
<text class="yr" transform="translate(574.23,570) rotate(-90) scale(1,0.98)">1999</text>
<text class="yr" transform="translate(589.17,570) rotate(-90) scale(1,0.98)">2000</text>
<text class="yr" transform="translate(604.11,570) rotate(-90) scale(1,0.98)">2001</text>
<text class="yr" transform="translate(619.06,570) rotate(-90) scale(1,0.98)">2002</text>
<text class="yr" transform="translate(634.00,570) rotate(-90) scale(1,0.98)">2003</text>
<text class="yr" transform="translate(648.94,570) rotate(-90) scale(1,0.98)">2004</text>
<text class="yr" transform="translate(663.88,570) rotate(-90) scale(1,0.98)">2005</text>
<text class="yr" transform="translate(678.82,570) rotate(-90) scale(1,0.98)">2006</text>
<text class="yr" transform="translate(693.76,570) rotate(-90) scale(1,0.98)">2007</text>
<text class="yr" transform="translate(708.71,570) rotate(-90) scale(1,0.98)">2008</text>
<text class="yr" transform="translate(723.65,570) rotate(-90) scale(1,0.98)">2009</text>
<text class="yr" transform="translate(738.59,570) rotate(-90) scale(1,0.98)">2010</text>
<text class="yr" transform="translate(753.53,570) rotate(-90) scale(1,0.98)">2011</text>
<text class="ttl" stroke="#fff" stroke-width="0.3" transform="translate(49.3,30) scale(0.997,0.94)">Vacancy Rate: Rental Properties</text>
<text class="src" transform="translate(297.6,596) scale(1.004,0.88)">Source: Census Bureau</text>
<rect x="76" y="62" width="6" height="7" fill="url(#gb)" shape-rendering="crispEdges"/>
<text class="ax" transform="translate(85,68) scale(1,0.86)">1Q</text>
<rect x="115" y="62" width="6" height="7" fill="url(#gr)" shape-rendering="crispEdges"/>
<text class="ax" transform="translate(123.5,68) scale(1,0.86)">2Q</text>
<rect x="146" y="62" width="6" height="7" fill="url(#gg)" shape-rendering="crispEdges"/>
<text class="ax" transform="translate(155,68) scale(1,0.86)">3Q</text>
<rect x="177" y="62" width="6" height="7" fill="url(#gp)" shape-rendering="crispEdges"/>
<text class="ax" transform="translate(186.5,68) scale(1,0.86)">4Q</text>
<rect x="606" y="4" width="151" height="43.5" fill="#2b2b2b"/>
<polygon points="608,47.5 619,47.5 633,4 622,4" fill="#313131"/>
<polygon points="650,47.5 700,47.5 757,20 757,4 740,4" fill="#2e2e2e"/>
<text class="lg" font-size="24.7" stroke="#fff" stroke-width="0.55" transform="translate(603.98,25.4) scale(1.466,1)">M</text>
<text class="lg" font-size="24.7" stroke="#fff" stroke-width="0.55" transform="translate(629.43,25.4) scale(1.186,1)">O</text>
<text class="lg" font-size="24.7" stroke="#fff" stroke-width="0.55" transform="translate(651.51,25.4) scale(0.798,1)">R</text>
<text class="lg" font-size="24.7" stroke="#fff" stroke-width="0.55" transform="translate(665.39,25.4) scale(0.785,1)">T</text>
<text class="lg" font-size="24.7" stroke="#fff" stroke-width="0.55" transform="translate(678.15,25.4) scale(1.280,1)">G</text>
<text class="lg" font-size="24.7" stroke="#fff" stroke-width="0.55" transform="translate(699.79,25.4) scale(1.198,1)">A</text>
<text class="lg" font-size="24.7" stroke="#fff" stroke-width="0.55" transform="translate(717.06,25.4) scale(1.273,1)">G</text>
<text class="lg" font-size="24.7" stroke="#fff" stroke-width="0.55" transform="translate(738.90,25.4) scale(0.901,1)">E</text>
<text class="nd" font-size="15.2" stroke="#b4cde8" stroke-width="0.45" x="665.4" y="40.5" textLength="85.4" lengthAdjust="spacingAndGlyphs">News Daily</text>
<clipPath id="gclip"><circle cx="641.2" cy="16.0" r="11.3"/></clipPath>
<g clip-path="url(#gclip)"><circle cx="641.2" cy="16.0" r="11.3" fill="#2b2b2b"/>
<g fill="none" stroke="#fff" stroke-width="1.1" transform="rotate(-14 641.2 16.0)">
<ellipse cx="641.2" cy="17.0" rx="4.1" ry="12.3"/>
<ellipse cx="641.2" cy="17.0" rx="8.3" ry="12.3"/>
<line x1="641.2" y1="4.699999999999999" x2="641.2" y2="27.3"/>
<path d="M631.66 8.60 Q641.2 11.00 650.74 8.60"/>
<path d="M629.49 12.40 Q641.2 15.40 652.91 12.40"/>
<path d="M628.91 16.40 Q641.2 19.80 653.49 16.40"/>
<path d="M629.79 20.40 Q641.2 23.60 652.61 20.40"/>
<path d="M632.22 24.00 Q641.2 26.40 650.18 24.00"/>
</g>
<ellipse cx="639.2" cy="8.8" rx="7.5" ry="3.2" fill="#fff" opacity="0.5" transform="rotate(-14 641.2 16.0)"/>
<circle cx="641.2" cy="16.0" r="10.450000000000001" fill="none" stroke="#fff" stroke-width="1.7"/>
</g>
</svg>
</body></html>
